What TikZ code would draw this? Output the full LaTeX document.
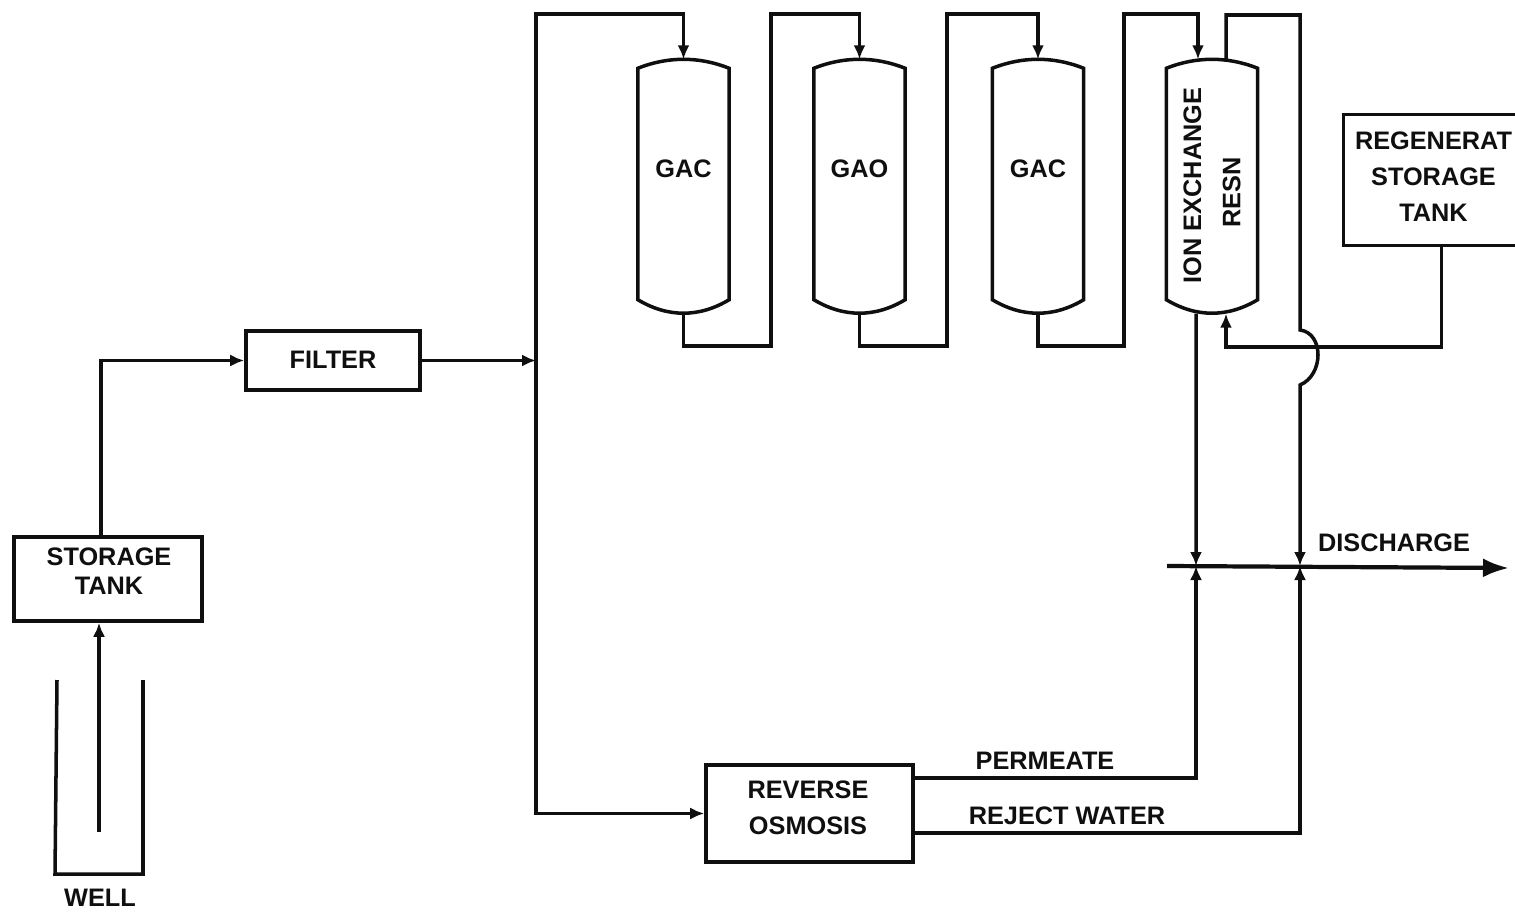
\documentclass[tikz,border=0pt]{standalone}
\usepackage{fontspec}
\setmainfont{Liberation Sans}
\usepackage{xcolor}
\usetikzlibrary{arrows.meta,positioning,calc}
\definecolor{inkblack}{RGB}{15,15,15}

\begin{document}
\begin{tikzpicture}[
  every node/.style={font=\fontsize{7.2}{10.2}\bfseries\selectfont,text=inkblack},
  box/.style={draw=inkblack,line width=1pt,inner sep=0pt,align=center},
  vessel/.style={inner sep=0pt,minimum width=0.90cm,minimum height=2.53cm},
  line/.style={draw=inkblack,line width=1pt},
  ar/.style={-{Latex[length=1.4mm,width=1.2mm]},inkblack,line width=1pt},
  bigar/.style={-{Latex[length=2.6mm,width=1.9mm]},inkblack,line width=1.2pt}]
\useasboundingbox (0,0) rectangle (15.15,9.11);
% boxes
\node[box,minimum width=1.88cm,minimum height=0.84cm,label={[align=center,xshift=0.01cm,yshift=0.08cm]center:STORAGE\\[-2pt]TANK}] (storage) at (1.08,3.32) {};
\node[box,minimum width=1.74cm,minimum height=0.59cm] (filter) at (3.33,5.505) {\raisebox{0.02cm}{FILTER}};
\node[box,minimum width=2.07cm,minimum height=0.97cm,label={[align=center,xshift=-0.015cm,yshift=0.06cm]center:REVERSE\\OSMOSIS}] (ro) at (8.095,0.975) {};
\node[inner sep=0pt,minimum width=1.71cm,minimum height=1.30cm,label={[align=center,xshift=0.04cm,yshift=0.03cm]center:REGENERAT\\STORAGE\\TANK}] (tank) at (14.295,7.31) {};
\draw[line] (tank.north east) -- (tank.north west) -- (tank.south west) -- (tank.south east);
% vessels
\foreach \n/\x/\t in {gac1/6.835/GAC,gac2/8.595/GAO,gac3/10.38/GAC}
  \node[vessel,label={[yshift=0.18cm]center:\t}] (\n) at (\x,7.245) {};
\node[vessel,label={[rotate=90,align=center,xshift=0.01cm]center:ION EXCHANGE\\[1pt]RESN\hspace*{0.14cm}}] (ion) at (12.12,7.245) {};
\foreach \n in {gac1,gac2,gac3,ion}
  \draw[line] ([yshift=-0.09cm]\n.north west) .. controls ([xshift=0.3cm,yshift=0.03cm]\n.north west) and ([xshift=-0.3cm,yshift=0.03cm]\n.north east) .. ([yshift=-0.09cm]\n.north east)
    -- ([yshift=0.14cm]\n.south east) .. controls ([xshift=-0.3cm,yshift=-0.04cm]\n.south east) and ([xshift=0.3cm,yshift=-0.04cm]\n.south west) .. ([yshift=0.14cm]\n.south west) -- cycle;
% well
\draw[line] (0.57,2.31) -- (0.55,0.37) -- (1.43,0.37) -- (1.43,2.31);
\node (well) at (1.00,0.13) {WELL};
\coordinate (wellpipe) at (0.99,0.79);
\draw[ar] (wellpipe) -- (wellpipe |- storage.south);
\draw[ar] ([xshift=-0.07cm]storage.north) |- (filter.west);
% trunk
\coordinate (trunk) at (5.36,5.505);
\coordinate (trunktop) at (5.36,8.97);
\draw[ar] (filter.east) -- (trunk);
\draw[ar] (trunk) -- (trunktop) -| (gac1.north);
\draw[ar] (trunk) |- (ro.west);
% series
\coordinate (ionin) at ([xshift=-0.14cm]ion.north);
\coordinate (ionout) at ([xshift=-0.16cm]ion.south);
\coordinate (ionret) at ([xshift=0.14cm]ion.south);
\coordinate (iontop) at ([xshift=0.14cm]ion.north);
\foreach \a/\b/\x in {gac1/gac2.north/7.71,gac2/gac3.north/9.47,gac3/ionin/11.24}
  \draw[ar] (\a.south) |- (\x,5.65) -- (\x,8.97) -| (\b);
% discharge
\coordinate (dstart) at (11.67,3.45);
\coordinate (dend) at (15.09,3.43);
\coordinate (dperm) at (11.96,3.45);
\coordinate (drej) at (13.00,3.45);
\draw[bigar] (dstart) -- (dend);
\draw[ar] (ionout) -- (dperm);
\draw[ar] (ro.east |- 0,1.33) -| (dperm);
\draw[ar] (ro.east |- 0,0.78) -| (drej);
\draw[ar] (iontop) |- (13.00,8.96) -- (13.00,5.81) .. controls (13.24,5.78) and (13.24,5.36) .. (13.00,5.26) -- (drej);
\draw[ar] ([xshift=0.12cm]tank.south) |- (ionret |- 0,5.64) -- (ionret);
% labels
\node (permeate) at (10.45,1.50) {PERMEATE};
\node (reject) at (10.67,0.95) {REJECT WATER};
\node (discharge) at (13.94,3.68) {DISCHARGE};
\end{tikzpicture}
\end{document}
